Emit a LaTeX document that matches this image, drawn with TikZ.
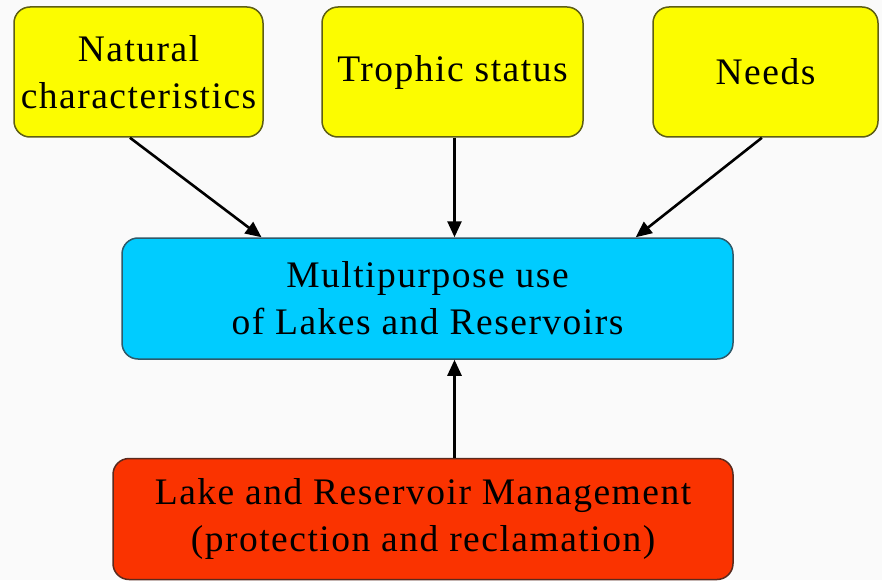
\documentclass[tikz,border=0pt]{standalone}
\usepackage{fontspec}
\setmainfont[LetterSpace=4]{Liberation Serif}
\usetikzlibrary{arrows.meta,calc}
\definecolor{yel}{HTML}{FCFC00}
\definecolor{yelb}{HTML}{5E5E14}
\definecolor{blu}{HTML}{00CCFF}
\definecolor{blub}{HTML}{2E5A6A}
\definecolor{rd}{HTML}{FA3300}
\definecolor{rdb}{HTML}{5A2A1E}
\begin{document}
\begin{tikzpicture}[x=1pt,y=-1pt,
  box/.style={rounded corners=16pt, line width=1.5pt, align=center, inner sep=0pt,
    font=\fontsize{37.5}{47}\selectfont},
  ybox/.style={box, fill=yel, draw=yelb},
  arr/.style={line width=2.6pt, -{Triangle[length=16pt,width=14pt]}}]
\fill[white!98!black] (0,0) rectangle (882,580);
\useasboundingbox (0,0) rectangle (882,580);
\node[ybox, minimum width=249pt, minimum height=130pt] (nat) at (138.5,72) {Natural\\characteristics};
\node[ybox, minimum width=261pt, minimum height=130pt] (tro) at (452.5,72) {\raisebox{-7pt}{Trophic status}};
\node[ybox, minimum width=225pt, minimum height=130pt] (nee) at (765.5,72) {\raisebox{-7pt}{Needs}};
\node[box, fill=blu, draw=blub, minimum width=611pt, minimum height=121pt] (mul) at (427.5,298.5) {Multipurpose use\\of Lakes and Reservoirs};
\node[box, fill=rd, draw=rdb, minimum width=620pt, minimum height=121pt] (man) at (423,519) {Lake and Reservoir Management\\(protection and reclamation)};
\draw[arr] ($(nat.south west)!0.466!(nat.south east)$) -- ($(mul.north west)!0.229!(mul.north east)$);
\draw[arr] ([xshift=2pt]tro.south) -- ([xshift=2pt]tro.south |- mul.north);
\draw[arr] ($(nee.south west)!0.484!(nee.south east)$) -- ($(mul.north west)!0.84!(mul.north east)$);
\draw[arr] ([xshift=2pt]tro.south |- man.north) -- ([xshift=2pt]tro.south |- mul.south);
\end{tikzpicture}
\end{document}
